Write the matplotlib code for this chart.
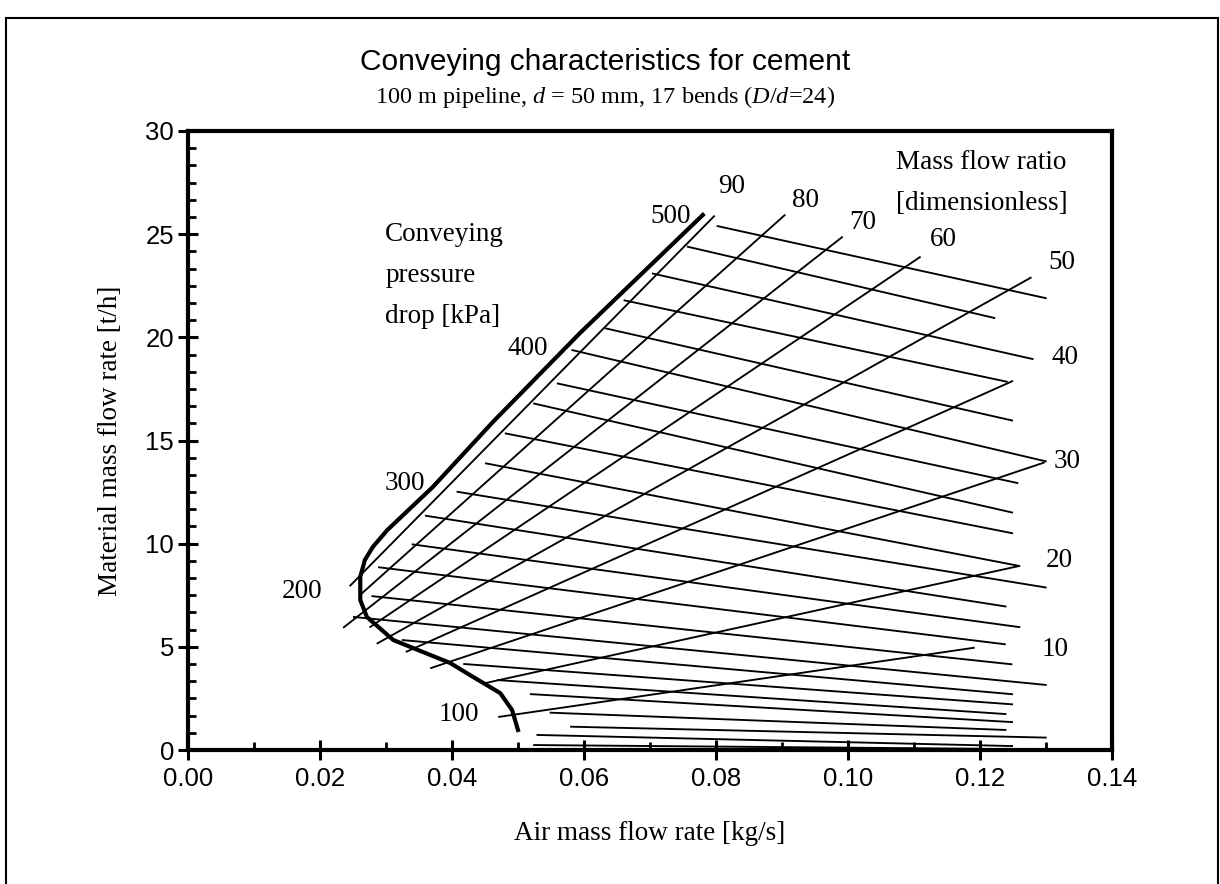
import matplotlib
matplotlib.use("Agg")
import matplotlib.pyplot as plt
from matplotlib.ticker import AutoMinorLocator
from matplotlib.lines import Line2D

plt.rcParams["mathtext.fontset"] = "custom"
plt.rcParams["mathtext.rm"] = "Liberation Serif"
plt.rcParams["mathtext.it"] = "Liberation Serif:italic"

# ---- data ----
# conveying pressure drop lines [kPa]: left end (x0,y0) and right end (x1,y1)
p_vals = [500, 480, 460, 440, 420, 400, 380, 360, 340, 320, 300, 280, 260,
          240, 220, 200, 180, 160, 140, 120, 100, 80, 60, 40]
p_x0 = [0.0801, 0.0756, 0.0703, 0.0660, 0.0632, 0.0581, 0.0559, 0.0523, 0.0480,
        0.0450, 0.0407, 0.0359, 0.0339, 0.0288, 0.0278, 0.0250, 0.0324, 0.0417,
        0.0468, 0.0518, 0.0548, 0.0579, 0.0528, 0.0523]
p_y0 = [25.40, 24.40, 23.10, 21.80, 20.44, 19.39, 17.77, 16.80, 15.35, 13.90,
        12.52, 11.36, 9.97, 8.86, 7.46, 6.45, 5.33, 4.17, 3.39, 2.71, 1.81,
        1.13, 0.73, 0.24]
p_x1 = [0.1301, 0.1223, 0.1281, 0.1242, 0.1250, 0.1301, 0.1258, 0.1250, 0.1250,
        0.1258, 0.1301, 0.1240, 0.1261, 0.1239, 0.1249, 0.1301, 0.1250, 0.1250,
        0.1240, 0.1250, 0.1240, 0.1301, 0.1250, 0.1200]
p_y1 = [21.89, 20.93, 18.94, 17.84, 15.96, 13.98, 12.93, 11.50, 10.50, 8.93,
        7.87, 6.95, 5.95, 5.12, 4.15, 3.15, 2.70, 2.21, 1.74, 1.35, 0.97,
        0.60, 0.19, 0.06]

# mass flow ratio lines: start and end points
r_vals = [90, 80, 70, 60, 50, 40, 30, 20, 10]
r_x0 = [0.0245, 0.0262, 0.0235, 0.0275, 0.0286, 0.0330, 0.0367, 0.0450, 0.0470]
r_y0 = [7.94, 7.55, 5.92, 5.94, 5.15, 4.75, 3.96, 3.24, 1.60]
r_x1 = [0.0798, 0.0905, 0.0992, 0.1110, 0.1278, 0.1250, 0.1298, 0.1261, 0.1192]
r_y1 = [25.90, 25.95, 24.88, 23.91, 22.91, 17.89, 13.94, 8.93, 4.96]

# thick boundary curve
b_x = [0.0780, 0.0594, 0.0462, 0.0371, 0.0302, 0.0280, 0.0268, 0.0261, 0.0261,
       0.0271, 0.0311, 0.0397, 0.0432, 0.0473, 0.0491, 0.0500]
b_y = [25.93, 20.21, 15.90, 12.75, 10.66, 9.84, 9.21, 8.39, 7.27, 6.45, 5.33,
       4.22, 3.54, 2.76, 1.94, 0.97]

# labels
p_lab = ["500", "400", "300", "200", "100"]
p_lab_x = [0.0732, 0.0515, 0.0329, 0.0173, 0.0411]
p_lab_y = [25.86, 19.44, 12.94, 7.66, 1.70]
r_lab = ["90", "80", "70", "60", "50", "40", "30", "20", "10"]
r_lab_x = [0.0824, 0.0935, 0.1023, 0.1144, 0.1324, 0.1329, 0.1332, 0.1320, 0.1314]
r_lab_y = [27.29, 26.61, 25.57, 24.72, 23.65, 19.00, 13.96, 9.16, 4.85]

x_ticks = [0.00, 0.02, 0.04, 0.06, 0.08, 0.10, 0.12, 0.14]
y_ticks = [0, 5, 10, 15, 20, 25, 30]

SANS = "Liberation Sans"
SERIF = "Liberation Serif"

fig = plt.figure(figsize=(12.2, 8.84), dpi=100)
ax = fig.add_axes([188 / 1220, (884 - 750) / 884, (1112 - 188) / 1220, (750 - 131) / 884])
ax.set_xlim(0, 0.14)
ax.set_ylim(0, 30)

for x0, y0, x1, y1 in zip(p_x0, p_y0, p_x1, p_y1):
    ax.plot([x0, x1], [y0, y1], color="black", lw=1.35, solid_capstyle="butt")
for x0, y0, x1, y1 in zip(r_x0, r_y0, r_x1, r_y1):
    ax.plot([x0, x1], [y0, y1], color="black", lw=1.35, solid_capstyle="butt")
ax.plot(b_x, b_y, color="black", lw=3.0, solid_joinstyle="round")

for t, x, y in zip(p_lab, p_lab_x, p_lab_y):
    ax.text(x, y, t, family=SERIF, fontsize=19.5, ha="center", va="center")
for t, x, y in zip(r_lab, r_lab_x, r_lab_y):
    ax.text(x, y, t, family=SERIF, fontsize=19.5, ha="center", va="center")

ax.text(0.0299, 25.6, "Conveying\npressure\ndrop [kPa]", family=SERIF, fontsize=19.5,
        ha="left", va="top", linespacing=1.85)
ax.text(0.1073, 29.1, "Mass flow ratio\n[dimensionless]", family=SERIF, fontsize=19.5,
        ha="left", va="top", linespacing=1.85)

ax.set_xticks(x_ticks)
ax.set_xticklabels([f"{v:.2f}" for v in x_ticks])
ax.set_yticks(y_ticks)
ax.set_yticklabels([str(v) for v in y_ticks])
ax.xaxis.set_minor_locator(AutoMinorLocator(2))
ax.yaxis.set_minor_locator(AutoMinorLocator(6))
ax.tick_params(which="major", direction="inout", length=14, width=2.2,
               labelsize=18.5, pad=5)
ax.tick_params(axis="y", which="major", pad=3)
ax.tick_params(which="minor", direction="in", length=6, width=2.0)
for lab in ax.get_xticklabels() + ax.get_yticklabels():
    lab.set_family(SANS)
for s in ax.spines.values():
    s.set_linewidth(3.0)

ax.set_xlabel("Air mass flow rate [kg/s]", family=SERIF, fontsize=19.5, labelpad=22)
ax.set_ylabel("Material mass flow rate [t/h]", family=SERIF, fontsize=19.5, labelpad=16)

fig.text(0.496, 1 - 62 / 884, "Conveying characteristics for cement", family=SANS,
         fontsize=21.5, ha="center", va="center")
fig.text(0.496, 1 - 97 / 884, "100 m pipeline, $d$ = 50 mm, 17 bends ($D/d$=24)",
         family=SERIF, fontsize=17.5, ha="center", va="center")

# outer frame
fig.add_artist(Line2D([6 / 1220, 1218 / 1220], [1 - 18 / 884, 1 - 18 / 884],
                      transform=fig.transFigure, color="black", lw=1.5))
fig.add_artist(Line2D([6 / 1220, 6 / 1220], [0, 1 - 18 / 884],
                      transform=fig.transFigure, color="black", lw=1.5))
fig.add_artist(Line2D([1218 / 1220, 1218 / 1220], [0, 1 - 18 / 884],
                      transform=fig.transFigure, color="black", lw=1.5))

fig.savefig("out.png", dpi=100)
